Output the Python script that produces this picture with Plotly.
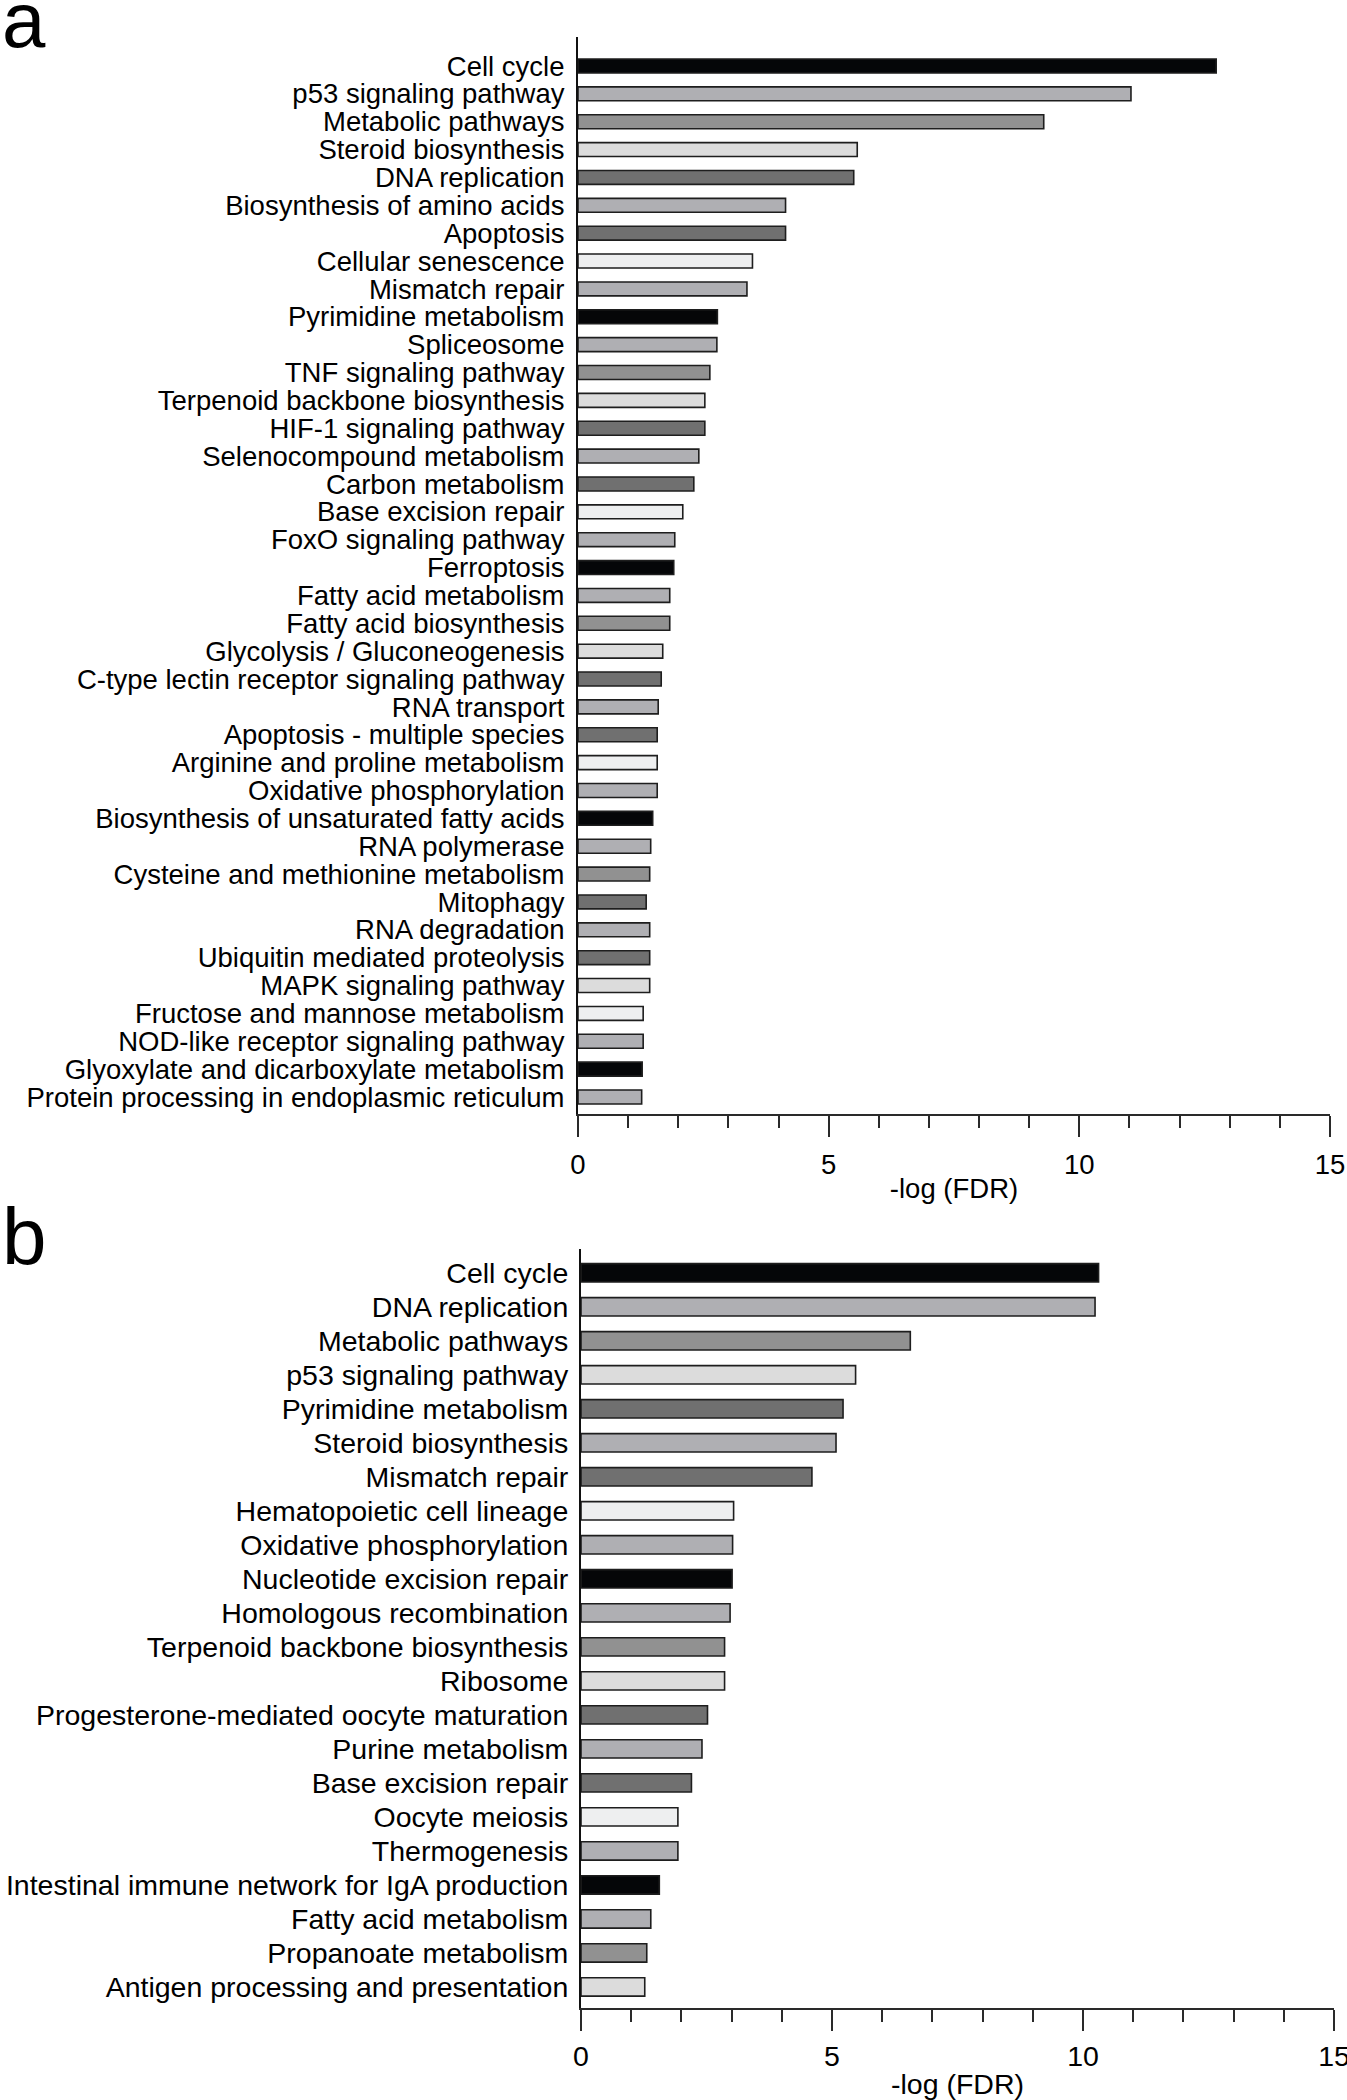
import plotly.graph_objects as go

# ---------------- data ----------------
labels_a = [
    "Cell cycle", "p53 signaling pathway", "Metabolic pathways", "Steroid biosynthesis",
    "DNA replication", "Biosynthesis of amino acids", "Apoptosis", "Cellular senescence",
    "Mismatch repair", "Pyrimidine metabolism", "Spliceosome", "TNF signaling pathway",
    "Terpenoid backbone biosynthesis", "HIF-1 signaling pathway", "Selenocompound metabolism",
    "Carbon metabolism", "Base excision repair", "FoxO signaling pathway", "Ferroptosis",
    "Fatty acid metabolism", "Fatty acid biosynthesis", "Glycolysis / Gluconeogenesis",
    "C-type lectin receptor signaling pathway", "RNA transport", "Apoptosis - multiple species",
    "Arginine and proline metabolism", "Oxidative phosphorylation",
    "Biosynthesis of unsaturated fatty acids", "RNA polymerase",
    "Cysteine and methionine metabolism", "Mitophagy", "RNA degradation",
    "Ubiquitin mediated proteolysis", "MAPK signaling pathway",
    "Fructose and mannose metabolism", "NOD-like receptor signaling pathway",
    "Glyoxylate and dicarboxylate metabolism", "Protein processing in endoplasmic reticulum",
]
values_a = [
    12.73, 11.03, 9.29, 5.57, 5.50, 4.14, 4.14, 3.48, 3.37, 2.78,
    2.77, 2.63, 2.53, 2.53, 2.41, 2.31, 2.09, 1.93, 1.91, 1.83,
    1.83, 1.69, 1.66, 1.60, 1.58, 1.58, 1.58, 1.49, 1.45, 1.43,
    1.36, 1.43, 1.43, 1.43, 1.30, 1.30, 1.28, 1.27,
]

labels_b = [
    "Cell cycle", "DNA replication", "Metabolic pathways", "p53 signaling pathway",
    "Pyrimidine metabolism", "Steroid biosynthesis", "Mismatch repair",
    "Hematopoietic cell lineage", "Oxidative phosphorylation", "Nucleotide excision repair",
    "Homologous recombination", "Terpenoid backbone biosynthesis", "Ribosome",
    "Progesterone-mediated oocyte maturation", "Purine metabolism", "Base excision repair",
    "Oocyte meiosis", "Thermogenesis", "Intestinal immune network for IgA production",
    "Fatty acid metabolism", "Propanoate metabolism", "Antigen processing and presentation",
]
values_b = [
    10.31, 10.24, 6.56, 5.47, 5.22, 5.08, 4.60, 3.04, 3.02, 3.01,
    2.97, 2.86, 2.86, 2.52, 2.41, 2.20, 1.93, 1.93, 1.56, 1.39,
    1.31, 1.27,
]

x_ticks = [0, 5, 10, 15]
x_title = "-log (FDR)"

# ---------------- style ----------------
K, G1, G2, G3, G4, G5 = "#050608", "#afafb3", "#919191", "#dcdcdc", "#707070", "#eeeff0"
bar_colors_a = [
    K, G1, G2, G3, G4, G1, G4, G5, G1,
    K, G1, G2, G3, G4, G1, G4, G5, G1,
    K, G1, G2, G3, G4, G1, G4, G5, G1,
    K, G1, G2, G4, G1, G4, G3, G5, G1,
    K, G1,
]
bar_colors_b = [
    K, G1, G2, G3, G4, G1, G4, G5, G1,
    K, G1, G2, G3, G4, G1, G4, G5, G1,
    K, G1, G2, G3,
]
FONT = "Liberation Sans, Arial, Helvetica, sans-serif"
W, H = 1347, 2100

fig = go.Figure()

fig.add_trace(go.Bar(
    x=values_a, y=list(range(len(labels_a))), orientation="h",
    marker=dict(color=bar_colors_a, line=dict(color="#1e1e1e", width=1.6)),
    width=0.5, xaxis="x", yaxis="y", showlegend=False, hoverinfo="x+y",
))
fig.add_trace(go.Bar(
    x=values_b, y=list(range(len(labels_b))), orientation="h",
    marker=dict(color=bar_colors_b, line=dict(color="#1e1e1e", width=1.6)),
    width=0.54, xaxis="x2", yaxis="y2", showlegend=False, hoverinfo="x+y",
))


def xaxis_cfg(domain, anchor, fs, label_standoff, title_standoff):
    return dict(
        domain=domain, anchor=anchor, range=[0, 15], tickvals=x_ticks,
        ticks="outside", ticklen=21, tickwidth=1.6, tickcolor="#2a2a2a",
        minor=dict(ticks="outside", ticklen=12, dtick=1, tickwidth=1.6, tickcolor="#2a2a2a"),
        showline=True, linecolor="#2a2a2a", linewidth=2.2,
        showgrid=False, zeroline=False, automargin=False,
        tickfont=dict(family=FONT, size=fs, color="#000"),
        ticklabelstandoff=label_standoff, ticklabeloverflow="allow",
        title=dict(text=x_title, font=dict(family=FONT, size=fs, color="#000"),
                   standoff=title_standoff),
    )


def yaxis_cfg(domain, anchor, labels, lo, hi, fs, standoff):
    return dict(
        domain=domain, anchor=anchor, range=[hi, lo],
        tickvals=list(range(len(labels))), ticktext=labels,
        ticks="", showline=True, linecolor="#111", linewidth=2,
        showgrid=False, zeroline=False, automargin=False,
        tickfont=dict(family=FONT, size=fs, color="#000"),
        ticklabelstandoff=standoff, ticklabeloverflow="allow",
    )


na, nb = len(labels_a), len(labels_b)
fig.update_layout(
    width=W, height=H,
    margin=dict(l=0, r=0, t=0, b=0, autoexpand=False),
    paper_bgcolor="white", plot_bgcolor="white",
    xaxis=xaxis_cfg([578 / W, 1330 / W], "y", 27.5, 4, 0),
    yaxis=yaxis_cfg([1 - 1114 / H, 1 - 37 / H], "x", labels_a, -1.04, na - 1 + 0.61, 27.5, 6),
    xaxis2=xaxis_cfg([581 / W, 1334 / W], "y2", 28.5, 1, 15),
    yaxis2=yaxis_cfg([1 - 2008 / H, 1 - 1249 / H], "x2", labels_b, -0.7, nb - 1 + 0.62, 28.5, 5),
    annotations=[
        dict(text="a", x=0, y=1 - 20 / H, xref="paper", yref="paper",
             xanchor="left", yanchor="middle", showarrow=False,
             font=dict(family=FONT, size=78, color="#000")),
        dict(text="b", x=0, y=1 - 1236 / H, xref="paper", yref="paper",
             xanchor="left", yanchor="middle", showarrow=False,
             font=dict(family=FONT, size=80, color="#000")),
    ],
)

fig.write_html(
    "out.html",
    config={"displayModeBar": False},
    post_script="document.body.style.margin='0px';document.body.style.overflow='hidden';",
)
